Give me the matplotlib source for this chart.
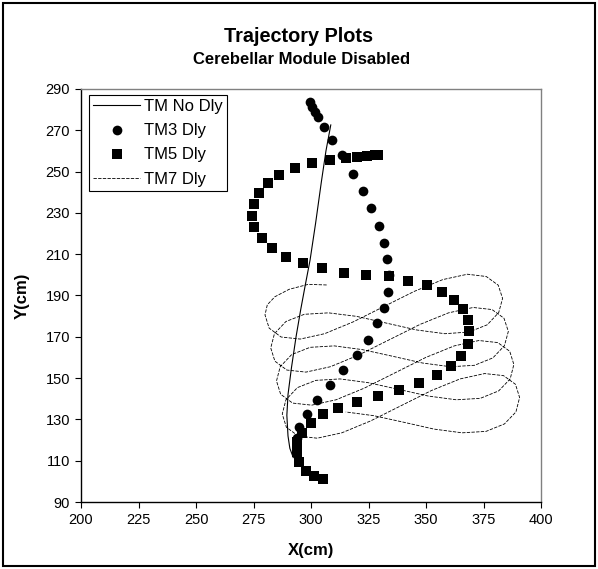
import matplotlib
matplotlib.use("Agg")
import matplotlib.pyplot as plt
from matplotlib.lines import Line2D
from matplotlib.patches import Rectangle

plt.rcParams["font.family"] = ["Liberation Sans", "DejaVu Sans"]

# TM No Dly (solid line)
tm0_x = [292.3, 290.8, 290.0, 289.5, 290.0, 291.5, 293.5, 295.5, 297.5, 299.6, 302.0, 304.5, 306.5, 308.6]
tm0_y = [111.5, 116.0, 122.0, 132.0, 142.0, 155.0, 170.0, 183.0, 195.0, 207.2, 225.0, 245.0, 260.0, 272.6]

# TM3 Dly (circles)
tm3_x = [299.6, 300.3, 301.7, 303.2, 305.7, 309.0, 313.3, 318.4, 322.5, 326.1, 329.7, 331.9,
         332.9, 334.0, 333.3, 331.7, 328.6, 324.7, 319.9, 314.0, 308.3, 302.7, 298.4, 294.9, 293.8]
tm3_y = [283.8, 281.4, 279.0, 276.6, 271.7, 265.3, 258.0, 248.7, 240.6, 232.2, 223.8, 215.6,
         207.5, 199.9, 191.8, 183.8, 176.5, 168.5, 161.2, 153.9, 146.7, 139.4, 132.6, 126.5, 120.8]

# TM5 Dly (squares)
tm5_x = [305.1, 301.4, 297.8, 294.9, 293.8, 294.0, 296.2, 299.9, 305.1, 311.9, 319.9, 329.3,
         338.4, 347.1, 354.6, 360.7, 365.2, 368.1, 368.8, 368.3, 366.2, 362.2, 356.8, 350.3,
         342.3, 334.0, 323.9, 314.3, 304.6, 296.4, 289.1, 282.9, 278.6, 275.2, 274.5, 275.2,
         277.4, 281.4, 286.2, 293.0, 300.3, 308.3, 315.2, 319.9, 324.2, 327.8, 329.3]
tm5_y = [101.0, 102.6, 105.0, 109.5, 114.4, 119.2, 123.6, 128.4, 132.5, 135.4, 138.6, 141.5,
         144.2, 147.5, 151.5, 155.9, 160.9, 166.5, 172.8, 178.1, 183.3, 187.8, 191.8, 195.1,
         197.2, 199.4, 200.1, 201.0, 203.2, 205.6, 208.8, 212.9, 217.7, 223.3, 228.6, 234.2,
         239.5, 244.3, 248.4, 251.6, 254.0, 255.6, 256.4, 256.9, 257.6, 257.9, 258.0]

# TM7 Dly (dashed line)
tm7_x = [306.8, 298.8, 290.5, 284.3, 281.0, 280.0, 281.8, 287.0, 295.3, 305.9, 318.3,
         331.6, 344.9, 357.3, 368.0, 376.2, 381.4, 383.3, 381.6, 376.6, 368.6,
         358.2, 346.0, 332.9, 319.8, 307.6, 297.1, 289.1, 284.1, 282.5, 284.3,
         289.5, 297.8, 308.4, 320.8, 334.1, 347.4, 359.8, 370.5, 378.7, 383.9,
         385.8, 384.1, 379.1, 371.1, 360.7, 348.5, 335.4, 322.3, 310.1, 299.6,
         291.6, 286.6, 285.0, 286.8, 292.0, 300.3, 310.9, 323.3, 336.6, 349.9,
         362.3, 373.0, 381.2, 386.4, 388.2, 386.6, 381.6, 373.6, 363.2, 351.0,
         337.9, 324.8, 312.6, 302.1, 294.1, 289.1, 287.5, 289.3, 294.5, 302.7,
         313.4, 325.8, 339.1, 352.4, 364.8, 375.5, 383.7, 388.9, 390.7, 389.1,
         384.1, 376.1, 365.7, 353.5, 340.4, 327.3, 315.1]
tm7_y = [195.1, 195.4, 193.0, 189.4, 185.5, 180.6, 174.2, 169.9, 168.9, 171.5, 177.2,
         184.6, 192.0, 197.7, 200.3, 199.2, 195.0, 188.6, 181.7, 175.8, 172.3,
         171.5, 173.3, 176.6, 179.9, 181.6, 180.9, 177.4, 171.5, 164.6, 158.2,
         153.9, 152.9, 155.5, 161.2, 168.6, 176.0, 181.6, 184.2, 183.2, 179.0,
         172.6, 165.7, 159.8, 156.2, 155.5, 157.3, 160.6, 163.8, 165.6, 164.9,
         161.4, 155.5, 148.6, 142.2, 137.9, 136.9, 139.5, 145.2, 152.6, 160.0,
         165.6, 168.2, 167.2, 163.0, 156.6, 149.6, 143.8, 140.2, 139.5, 141.3,
         144.6, 147.8, 149.6, 148.9, 145.4, 139.5, 132.6, 126.2, 121.9, 120.9,
         123.5, 129.2, 136.6, 144.0, 149.6, 152.2, 151.2, 147.0, 140.6, 133.6,
         127.8, 124.2, 123.5, 125.3, 128.6, 131.8, 133.6]

x_ticks = [200, 225, 250, 275, 300, 325, 350, 375, 400]
y_ticks = [90, 110, 130, 150, 170, 190, 210, 230, 250, 270, 290]

fig = plt.figure(figsize=(5.98, 5.69), dpi=100)
ax = fig.add_axes([81 / 598, 1 - 502 / 569, 460 / 598, 413 / 569])

dash = (0, (4, 1.6))
ax.plot(tm7_x, tm7_y, color="black", lw=0.6, linestyle=dash)
ax.plot(tm0_x, tm0_y, color="black", lw=0.8)
ax.plot(tm3_x, tm3_y, "o", color="black", ms=7, mew=0)
ax.plot(tm5_x, tm5_y, "s", color="black", ms=6.8, mew=0)

ax.set_xlim(200, 400)
ax.set_ylim(90, 290)
ax.set_xticks(x_ticks)
ax.set_yticks(y_ticks)
ax.tick_params(direction="out", length=4, width=0.8, labelsize=10.5, pad=4)

for side in ["top", "right"]:
    ax.spines[side].set_color("#808080")
for side in ["left", "bottom"]:
    ax.spines[side].set_color("black")
for s in ax.spines.values():
    s.set_linewidth(1.0)

ax.set_xlabel("X(cm)", fontsize=12, fontweight="bold", va="center")
ax.set_ylabel("Y(cm)", fontsize=12, fontweight="bold", va="center")
ax.xaxis.set_label_coords(0.5, (502 - 551) / 413)
ax.yaxis.set_label_coords(-(81 - 22) / 460, 0.5)

handles = [
    Line2D([], [], color="black", lw=0.8),
    Line2D([], [], marker="o", color="black", ls="none", ms=7, mew=0),
    Line2D([], [], marker="s", color="black", ls="none", ms=6.8, mew=0),
    Line2D([], [], color="black", lw=0.6, linestyle=dash),
]
labels = ["TM No Dly", "TM3 Dly", "TM5 Dly", "TM7 Dly"]
leg = ax.legend(handles, labels, loc="upper left", bbox_to_anchor=((89 - 81) / 460, (502 - 95) / 413),
                borderaxespad=0, fontsize=12, handlelength=2.8, handletextpad=0.25,
                labelspacing=0.55, borderpad=0.25, fancybox=False, framealpha=1, numpoints=1)
leg.get_frame().set_edgecolor("black")
leg.get_frame().set_linewidth(0.8)

fig.text(0.5, 1 - 37 / 569, "Trajectory Plots", ha="center", va="center", fontsize=14.3, fontweight="bold")
fig.text(0.505, 1 - 59 / 569, "Cerebellar Module Disabled", ha="center", va="center", fontsize=12,
         fontweight="bold")

fig.patches.append(Rectangle((3 / 598, 3 / 569), 592 / 598, 563 / 569, transform=fig.transFigure,
                             fill=False, ec="black", lw=1.5))

fig.savefig("out.png", dpi=100)
